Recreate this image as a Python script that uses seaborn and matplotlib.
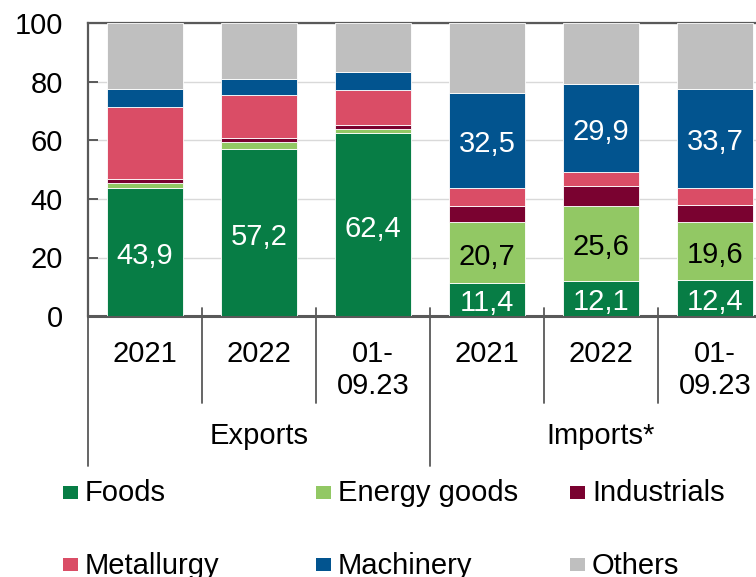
import numpy as np
import pandas as pd
import matplotlib
matplotlib.use("Agg")
import matplotlib.pyplot as plt
import matplotlib.transforms as mtransforms
from matplotlib.patches import Rectangle
from matplotlib.lines import Line2D
import seaborn as sns

# ---------------- data ----------------
keys = ["E2021", "E2022", "E2023", "I2021", "I2022", "I2023"]
tick_labels = ["2021", "2022", "01-\n09.23", "2021", "2022", "01-\n09.23"]
groups = ["Exports", "Imports*"]
series_names = ["Foods", "Energy goods", "Industrials", "Metallurgy", "Machinery", "Others"]

foods = [43.9, 57.2, 62.4, 11.4, 12.1, 12.4]
energy = [1.4, 2.4, 1.4, 20.7, 25.6, 19.6]
industrials = [1.4, 1.4, 1.5, 5.4, 6.7, 5.9]
metallurgy = [24.9, 14.4, 12.1, 6.4, 5.0, 6.0]
machinery = [5.9, 5.6, 6.0, 32.5, 29.9, 33.7]
others = [22.5, 19.0, 16.6, 23.6, 20.7, 22.4]

colors = ["#077D45", "#92C864", "#7A0230", "#DA4D66", "#02548F", "#BFBFBF"]

# which segments carry a value label (series index -> bar indices), and label colour
labelled = {0: ([0, 1, 2, 3, 4, 5], "white"),
            1: ([3, 4, 5], "black"),
            4: ([3, 4, 5], "white")}

# ---------------- style ----------------
sns.set_style("white")
plt.rcParams['font.family'] = ['Liberation Sans', 'DejaVu Sans']
plt.rcParams['text.color'] = 'black'
plt.rcParams['axes.labelcolor'] = 'black'
plt.rcParams['xtick.color'] = 'black'
plt.rcParams['ytick.color'] = 'black'
FS = 21

W, H = 756, 577
fig = plt.figure(figsize=(W / 100, H / 100), dpi=100)
ax_left = 88 / W
ax_bottom = (H - 316) / H
ax_height = 292.5 / H
ax = fig.add_axes([ax_left, ax_bottom, 1 - ax_left, ax_height])

series = [foods, energy, industrials, metallurgy, machinery, others]
bottom = np.zeros(len(keys))
containers = []
for name, vals, col in zip(series_names, series, colors):
    df = pd.DataFrame({"cat": keys, "val": vals})
    sns.barplot(data=df, x="cat", y="val", order=keys, color=col,
                bottom=bottom.copy(), width=0.67, ax=ax, errorbar=None,
                saturation=1, edgecolor="white", linewidth=0.6, zorder=3)
    containers.append(ax.containers[-1])
    bottom += np.array(vals)

for si, (idxs, tcol) in labelled.items():
    labs = [f"{v:.1f}".replace(".", ",") if i in idxs else ""
            for i, v in enumerate(series[si])]
    ax.bar_label(containers[si], labels=labs, label_type="center",
                 padding=-3, fontsize=FS, color=tcol, zorder=5)

# ---------------- axes ----------------
ax.set_xlim(-0.5, 5.36)
ax.set_ylim(0, 100)
ax.set_yticks(range(0, 101, 20))
ax.set_xlabel("")
ax.set_ylabel("")
ax.set_axisbelow(True)
ax.yaxis.grid(True, color="#D9D9D9", linewidth=1)
ax.xaxis.grid(False)

spine_col = "#595959"
for s in ["left", "top", "bottom"]:
    ax.spines[s].set_visible(True)
    ax.spines[s].set_color(spine_col)
ax.spines["right"].set_visible(False)
ax.spines["bottom"].set_linewidth(2.2)
ax.spines["left"].set_linewidth(1.6)
ax.spines["top"].set_linewidth(1.6)

ax.tick_params(axis="y", direction="in", length=7, width=1.4, color=spine_col,
               labelsize=FS, pad=18, labelcolor="black", left=True)
ax.set_xticks(range(len(keys)))
ax.set_xticklabels(tick_labels)
ax.tick_params(axis="x", length=0, labelsize=FS, pad=17, labelcolor="black")

# category separators below the axis
trans = mtransforms.blended_transform_factory(ax.transData, ax.transAxes)
def ay(p):
    return (316 - p) / 292.5
for x in [0.5, 1.5, 3.5, 4.5]:
    ax.add_line(Line2D([x, x], [ay(308), ay(403)], transform=trans,
                       color=spine_col, lw=1.3, clip_on=False, zorder=6))
for x in [-0.5, 2.5]:
    ax.add_line(Line2D([x, x], [ay(308), ay(466)], transform=trans,
                       color=spine_col, lw=1.3, clip_on=False, zorder=6))

# group labels
ax.text(1.0, ay(444), groups[0], transform=trans, ha="center", va="baseline",
        fontsize=FS, color="black")
ax.text(4.0, ay(444), groups[1], transform=trans, ha="center", va="baseline",
        fontsize=FS, color="black")

# ---------------- legend (manual, 3 columns x 2 rows) ----------------
col_x = [63, 316, 570]
row_base = [501, 574]
row_center = [492, 564]
for i, (name, col) in enumerate(zip(series_names, colors)):
    r, c = divmod(i, 3)
    x0 = col_x[c]
    yc = row_center[r]
    fig.add_artist(Rectangle((x0 / W, (H - yc - 6.5) / H), 15 / W, 13 / H,
                             transform=fig.transFigure, facecolor=col,
                             edgecolor="none"))
    fig.text((x0 + 22) / W, (H - row_base[r]) / H, name, fontsize=FS,
             ha="left", va="baseline", color="black")

fig.savefig("out.png", dpi=100)
